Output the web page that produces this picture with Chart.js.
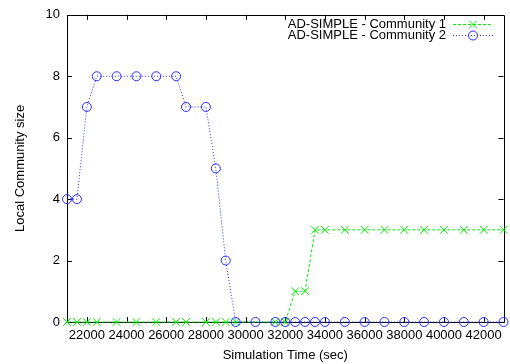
<!DOCTYPE html>
<html>
<head>
<meta charset="utf-8">
<script src="https://cdn.jsdelivr.net/npm/chart.js@4/dist/chart.umd.min.js"></script>
<style>
  html, body { margin: 0; padding: 0; background: #fff; }
  #wrap { width: 510px; height: 364px; }
</style>
</head>
<body>
<div id="wrap"><canvas id="c" width="510" height="364"></canvas></div>
<script>
// Simulation times (sec) and local community sizes
const community1Times = [21000, 21500, 22000, 22500, 23500, 24500, 25500, 26500, 27000, 28000, 28500, 29000, 29500,
  31500, 32000, 32500, 33000, 33500, 34000, 35000, 36000, 37000, 38000, 39000, 40000, 41000, 42000, 43000];
const community1Sizes = [0, 0, 0, 0, 0, 0, 0, 0, 0, 0, 0, 0, 0,
  0, 0, 1, 1, 3, 3, 3, 3, 3, 3, 3, 3, 3, 3, 3];

const community2Times = [21000, 21500, 22000, 22500, 23500, 24500, 25500, 26500, 27000, 28000, 28500, 29000, 29500,
  30500, 31500, 32000, 32500, 33000, 33500, 34000, 35000, 36000, 37000, 38000, 39000, 40000, 41000, 42000, 43000];
const community2Sizes = [4, 4, 7, 8, 8, 8, 8, 8, 7, 7, 5, 2, 0,
  0, 0, 0, 0, 0, 0, 0, 0, 0, 0, 0, 0, 0, 0, 0, 0];

const seriesLabels = ['AD-SIMPLE - Community 1', 'AD-SIMPLE - Community 2'];
const xTickValues = [22000, 24000, 26000, 28000, 30000, 32000, 34000, 36000, 38000, 40000, 42000];
const yTickValues = [0, 2, 4, 6, 8, 10];
const xAxisTitle = 'Simulation Time (sec)';
const yAxisTitle = 'Local Community size';

const FONT = "'Liberation Sans', Arial, Helvetica, sans-serif";
const FS = 13;

const toPoints = (xs, ys) => xs.map((x, i) => ({ x: x, y: ys[i] }));

// Box frame with inward tick marks on all four sides
const framePlugin = {
  id: 'frame',
  beforeDatasetsDraw(chart) {
    const { ctx, chartArea: a, scales } = chart;
    ctx.save();
    ctx.strokeStyle = '#000';
    ctx.lineWidth = 1;
    ctx.beginPath();
    ctx.rect(Math.round(a.left) + 0.5, Math.round(a.top) + 0.5,
             Math.round(a.right - a.left), Math.round(a.bottom - a.top));
    ctx.stroke();
    const len = 5;
    ctx.beginPath();
    scales.x.ticks.forEach(t => {
      const px = Math.round(scales.x.getPixelForValue(t.value)) + 0.5;
      ctx.moveTo(px, a.bottom); ctx.lineTo(px, a.bottom - len);
      ctx.moveTo(px, a.top); ctx.lineTo(px, a.top + len);
    });
    scales.y.ticks.forEach(t => {
      const py = Math.round(scales.y.getPixelForValue(t.value)) + 0.5;
      ctx.moveTo(a.left, py); ctx.lineTo(a.left + len, py);
      ctx.moveTo(a.right, py); ctx.lineTo(a.right - len, py);
    });
    ctx.stroke();
    ctx.restore();
  }
};

// Key in the top right corner: right-aligned text followed by a line sample with its marker
const keyPlugin = {
  id: 'key',
  afterDatasetsDraw(chart) {
    const { ctx } = chart;
    const textRight = 446;
    const sampleL = 453, sampleR = 493;
    const rows = [24, 35];
    ctx.save();
    ctx.font = FS + 'px ' + FONT;
    ctx.textAlign = 'right';
    ctx.textBaseline = 'middle';
    chart.data.datasets.forEach((ds, i) => {
      const y = rows[i];
      ctx.fillStyle = '#000';
      ctx.fillText(ds.label, textRight, y + 0.5);
      ctx.strokeStyle = ds.borderColor;
      ctx.lineWidth = 1;
      ctx.setLineDash(ds.borderDash);
      ctx.beginPath();
      ctx.moveTo(sampleL, y + 0.5); ctx.lineTo(sampleR, y + 0.5);
      ctx.stroke();
      ctx.setLineDash([]);
      ctx.fillStyle = 'rgba(0,0,0,0)';
      Chart.helpers.drawPoint(ctx, {
        pointStyle: ds.pointStyle, radius: ds.pointRadius, borderWidth: 1, rotation: 0
      }, (sampleL + sampleR) / 2, y + 0.5);
    });
    ctx.restore();
  }
};

new Chart(document.getElementById('c'), {
  type: 'scatter',
  data: {
    datasets: [
      {
        label: seriesLabels[0],
        data: toPoints(community1Times, community1Sizes),
        showLine: true,
        borderColor: '#00ee00',
        backgroundColor: 'rgba(0,0,0,0)',
        borderWidth: 1,
        borderDash: [3, 2],
        pointStyle: 'crossRot',
        pointRadius: 5.5,
        pointHoverRadius: 5.5,
        pointBorderWidth: 1,
        pointBorderColor: '#00ee00',
        tension: 0,
        clip: false,
        order: 2
      },
      {
        label: seriesLabels[1],
        data: toPoints(community2Times, community2Sizes),
        showLine: true,
        borderColor: '#2a2aff',
        backgroundColor: 'rgba(0,0,0,0)',
        borderWidth: 1,
        borderDash: [1, 2],
        pointStyle: 'circle',
        pointRadius: 4.5,
        pointHoverRadius: 4.5,
        pointBorderWidth: 1,
        pointBorderColor: '#2a2aff',
        pointBackgroundColor: 'rgba(0,0,0,0)',
        tension: 0,
        clip: false,
        order: 1
      }
    ]
  },
  options: {
    responsive: false,
    animation: false,
    events: [],
    layout: { padding: { left: 0, right: 3, top: 12, bottom: 0 } },
    plugins: {
      legend: { display: false },
      tooltip: { enabled: false }
    },
    scales: {
      x: {
        type: 'linear',
        min: 21000,
        max: 43000,
        afterBuildTicks: s => { s.ticks = xTickValues.map(v => ({ value: v })); },
        afterFit: s => { s.height = 42; },
        grid: { display: false, drawTicks: false },
        border: { display: false },
        ticks: {
          color: '#000',
          padding: 6,
          maxRotation: 0,
          autoSkip: false,
          font: { family: FONT, size: FS },
          callback: v => String(v)
        },
        title: {
          display: true,
          text: xAxisTitle,
          color: '#000',
          font: { family: FONT, size: FS },
          padding: { top: 0, bottom: 1 }
        }
      },
      y: {
        type: 'linear',
        min: 0,
        max: 10,
        afterBuildTicks: s => { s.ticks = yTickValues.map(v => ({ value: v })); },
        afterFit: s => { s.width = 67; },
        grid: { display: false, drawTicks: false },
        border: { display: false },
        ticks: {
          color: '#000',
          padding: 7,
          font: { family: FONT, size: FS },
          callback: v => String(v)
        },
        title: {
          display: true,
          text: yAxisTitle,
          color: '#000',
          font: { family: FONT, size: FS },
          padding: { top: 13, bottom: 0 }
        }
      }
    }
  },
  plugins: [framePlugin, keyPlugin]
});
</script>
</body>
</html>
